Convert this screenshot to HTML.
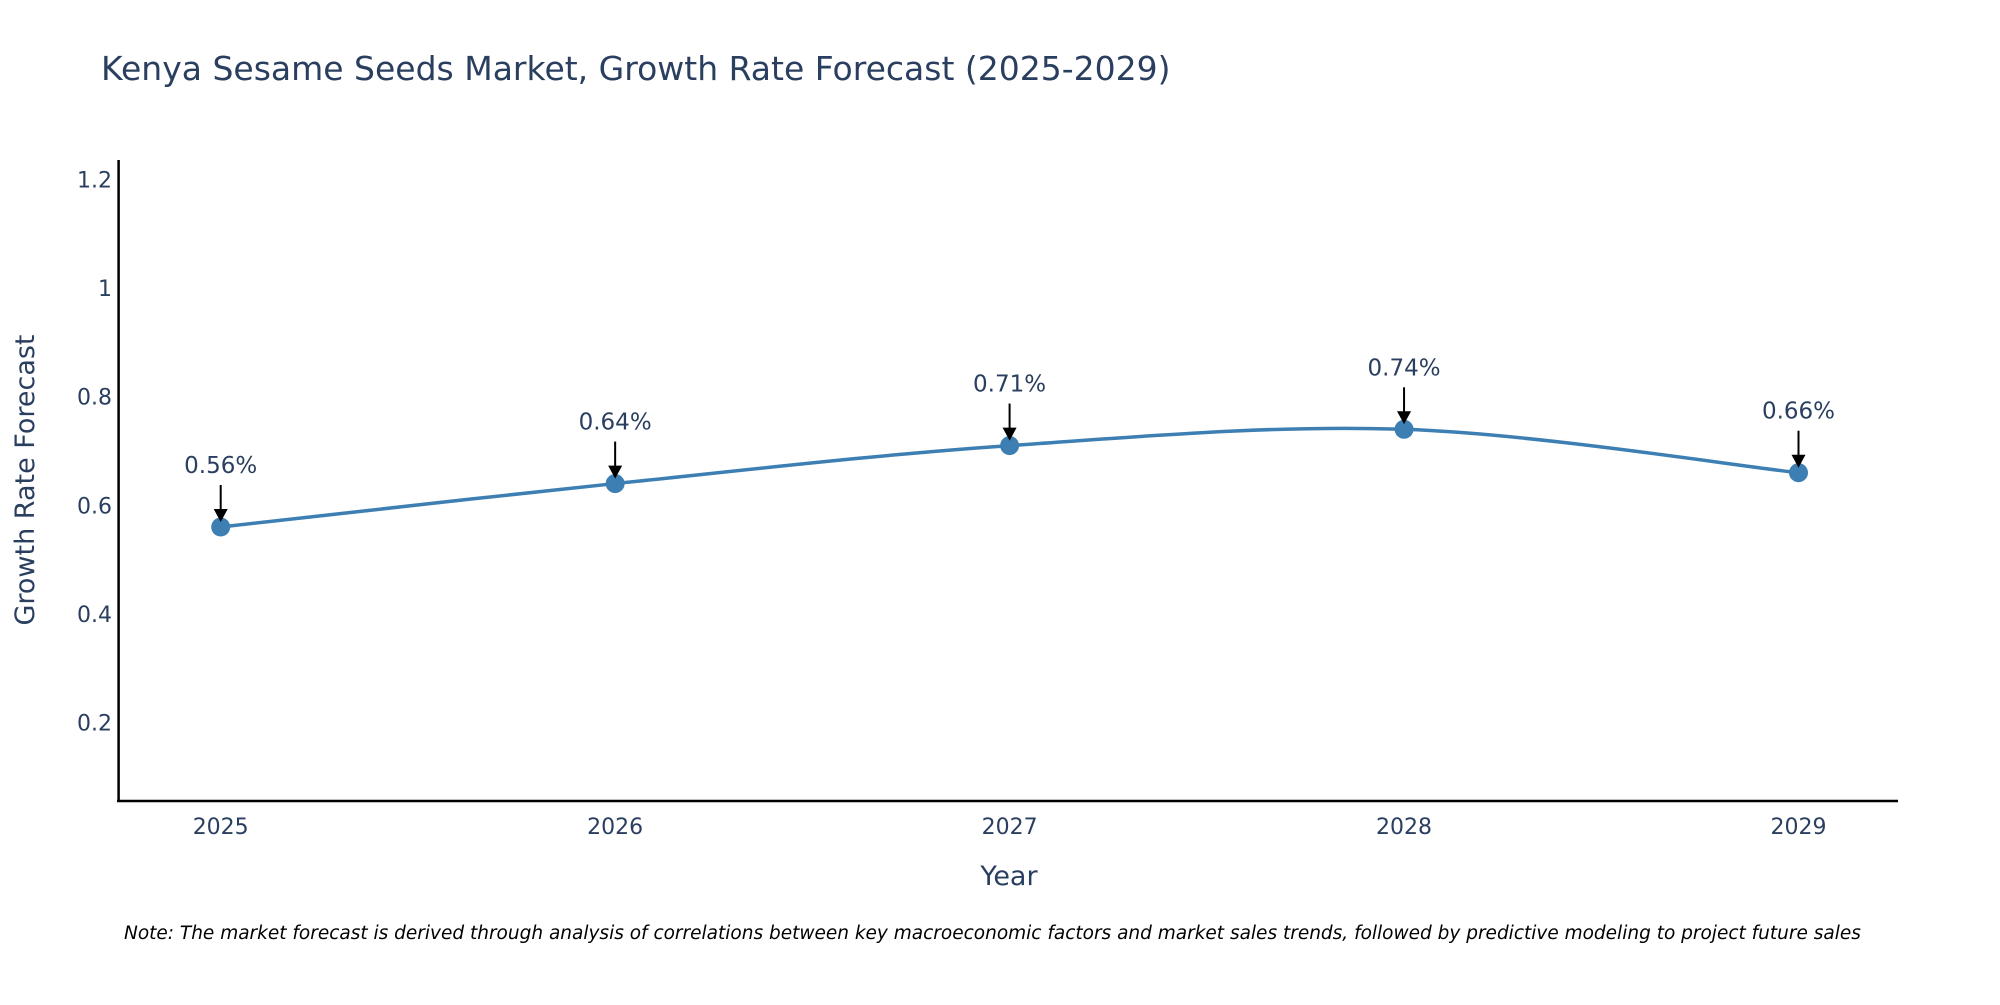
<!DOCTYPE html>
<html><head><meta charset="utf-8"><style>
body{margin:0;background:#fff;}
svg text{font-family:"DejaVu Sans","Liberation Sans",sans-serif;}
</style></head><body>
<svg id="chart" width="2000" height="1000" xmlns="http://www.w3.org/2000/svg">
<text x="101" y="80" font-size="33" fill="#2a3f5f">Kenya Sesame Seeds Market, Growth Rate Forecast (2025-2029)</text>
<g id="yticks"></g>
<g id="xticks"></g>
<line x1="118.6" y1="160" x2="118.6" y2="802" stroke="#000" stroke-width="2.5"/>
<line x1="117" y1="801" x2="1898" y2="801" stroke="#000" stroke-width="2.5"/>
<text transform="translate(34,480) rotate(-90)" text-anchor="middle" font-size="27" fill="#2a3f5f">Growth Rate Forecast</text>
<text x="1009" y="885" text-anchor="middle" font-size="27" fill="#2a3f5f">Year</text>
<g id="series"></g>
<text x="124" y="939" font-size="18.5" font-style="italic" fill="#000">Note: The market forecast is derived through analysis of correlations between key macroeconomic factors and market sales trends, followed by predictive modeling to project future sales</text>
</svg>
<script>
const years = [2025, 2026, 2027, 2028, 2029];
const growth = [0.56, 0.64, 0.71, 0.74, 0.66];
const labels = ["0.56%", "0.64%", "0.71%", "0.74%", "0.66%"];
const yTickVals = [0.2, 0.4, 0.6, 0.8, 1, 1.2];
const yTickText = ["0.2", "0.4", "0.6", "0.8", "1", "1.2"];

const NS = "http://www.w3.org/2000/svg";
const X0 = 220.7, X1 = 1798.5;
const yMin = 0.055, yMax = 1.235, Ytop = 160.7, Ybot = 801;
function xs(v){ return X0 + (v - years[0]) / (years[years.length-1] - years[0]) * (X1 - X0); }
function ys(v){ return Ybot - (v - yMin) / (yMax - yMin) * (Ybot - Ytop); }
function mk(tag, attrs, parent){ const e=document.createElementNS(NS,tag); for(const k in attrs) e.setAttribute(k,attrs[k]); parent.appendChild(e); return e; }

const yt = document.getElementById('yticks');
yTickVals.forEach((v,i)=>{
  const t = mk('text',{x:112,y:ys(v)+8,'text-anchor':'end','font-size':22,fill:'#2a3f5f'},yt);
  
  
  t.textContent = yTickText[i];
});
const xt = document.getElementById('xticks');
years.forEach(y=>{
  const t = mk('text',{x:xs(y),y:834,'text-anchor':'middle','font-size':22,fill:'#2a3f5f'},xt);
  
  
  t.textContent = y;
});

const s = document.getElementById('series');
const pts = years.map((y,i)=>[xs(y), ys(growth[i])]);
let d = `M${pts[0][0]},${pts[0][1]}`;
const tension = 0.5;
for(let i=0;i<pts.length-1;i++){
  const p0 = pts[Math.max(0,i-1)], p1=pts[i], p2=pts[i+1], p3=pts[Math.min(pts.length-1,i+2)];
  const c1x = p1[0] + (p2[0]-p0[0])*tension/3, c1y = p1[1] + (p2[1]-p0[1])*tension/3;
  const c2x = p2[0] - (p3[0]-p1[0])*tension/3, c2y = p2[1] - (p3[1]-p1[1])*tension/3;
  d += ` C${c1x},${c1y} ${c2x},${c2y} ${p2[0]},${p2[1]}`;
}
const line = mk('path',{d:d,fill:'none',stroke:'#3d7fb3','stroke-width':3.5},s);


pts.forEach((p,i)=>{
  const c = mk('circle',{cx:p[0],cy:p[1],r:9.5,fill:'#3d7fb3'},s);
  
  
  const a = mk('line',{x1:p[0],y1:p[1]-42,x2:p[0],y2:p[1]-14,stroke:'#000','stroke-width':2},s);
  
  
  const h = mk('path',{d:`M${p[0]-7},${p[1]-18} L${p[0]+7},${p[1]-18} L${p[0]},${p[1]-5} Z`,fill:'#000'},s);
  
  
  const t = mk('text',{x:p[0],y:p[1]-54,'text-anchor':'middle','font-size':23,fill:'#2a3f5f'},s);
  
  
  t.textContent = labels[i];
});
</script>
</body></html>
